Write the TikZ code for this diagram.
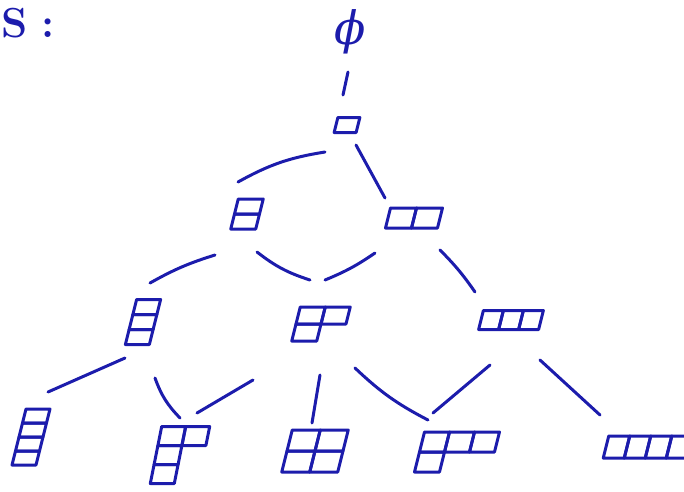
\documentclass[tikz,border=0pt]{standalone}
\usepackage{fontspec}
\newfontfamily\phifont{DejaVu Serif}
\definecolor{ink}{RGB}{28,28,172}
\tikzset{
  inkline/.style={draw=ink, line width=3pt, line cap=round, line join=round},
  edge/.style={inkline},
  ydnode/.style={inner sep=0pt, minimum size=1pt, draw=none},
}
% name, center, cell w, cell h, ncols, nrows, rows, slant
\newcommand\ydiag[8]{%
  \node[ydnode] (#1) at (#2) {};
  \begin{scope}[shift={(#2)}, xslant=#8, shift={({-#5*#3/2},{-#6*#4/2})}]
    \foreach \L [count=\r] in {#7} {
      \foreach \c in {1,...,\L} {
        \draw[inkline] ({(\c-1)*#3},{(\r-1)*#4}) rectangle ({\c*#3},{\r*#4});
      }
    }
  \end{scope}
}
\begin{document}
\begin{tikzpicture}[x=1pt, y=-1pt]
\useasboundingbox (0,0) rectangle (684,491);

\node[anchor=base west, text=ink, font=\bfseries\fontsize{42}{42}\selectfont, inner sep=0pt] (title) at (1,37) {S\hspace{14pt}:};
\node[text=ink, font=\phifont\itshape\fontsize{46}{46}\selectfont, inner sep=0pt] (phi) at (350,32) {ϕ};

\ydiag{n1}{347,125}{22}{15}{1}{1}{1}{0.25}
\ydiag{n11}{247,214}{25}{15}{1}{2}{1,1}{0.25}
\ydiag{n2}{414,218}{26}{20}{2}{1}{2}{0.25}
\ydiag{n111}{143,322}{24}{15}{1}{3}{1,1,1}{0.25}
\ydiag{n21}{321,324}{25}{17}{2}{2}{2,1}{0.25}
\ydiag{n3}{511,320}{20}{19}{3}{1}{3}{0.25}
\ydiag{n1111}{31,437}{24}{14}{1}{4}{1,1,1,1}{0.25}
\ydiag{n211}{180,455}{24}{19}{2}{3}{2,1,1}{0.2}
\ydiag{n22}{315,451}{28}{21}{2}{2}{2,2}{0.25}
\ydiag{n31}{457,452}{25}{20}{3}{2}{3,1}{0.25}
\ydiag{n4}{648,447}{21}{22}{4}{1}{4}{0.25}

\draw[edge] ([shift={(-2,40)}]phi.center) -- ([shift={(-4,-30)}]n1.center);
\draw[edge] ([shift={(-22,27)}]n1.center) to[bend right=10] ([shift={(-9,-32)}]n11.center);
\draw[edge] ([shift={(9,20)}]n1.center) -- ([shift={(-29,-20)}]n2.center);
\draw[edge] ([shift={(-32,41)}]n11.center) to[bend right=6] ([shift={(7,-39)}]n111.center);
\draw[edge] ([shift={(10,38)}]n11.center) to[bend right=10] ([shift={(-11,-44)}]n21.center);
\draw[edge] ([shift={(-39,35)}]n2.center) to[bend left=6] ([shift={(4,-44)}]n21.center);
\draw[edge] ([shift={(26,32)}]n2.center) to[bend left=5] ([shift={(-36,-28)}]n3.center);
\draw[edge] ([shift={(-18,36)}]n111.center) -- ([shift={(17,-45)}]n1111.center);
\draw[edge] ([shift={(12,56)}]n111.center) to[bend right=12] ([shift={(0,-37)}]n211.center);
\draw[edge] ([shift={(-68,56)}]n21.center) -- ([shift={(17,-42)}]n211.center);
\draw[edge] ([shift={(-1,51)}]n21.center) -- ([shift={(-3,-28)}]n22.center);
\draw[edge] ([shift={(34,44)}]n21.center) to[bend right=8] ([shift={(-29,-32)}]n31.center);
\draw[edge] ([shift={(-21,45)}]n3.center) -- ([shift={(-24,-39)}]n31.center);
\draw[edge] ([shift={(29,40)}]n3.center) -- ([shift={(-48,-32)}]n4.center);
\end{tikzpicture}
\end{document}
